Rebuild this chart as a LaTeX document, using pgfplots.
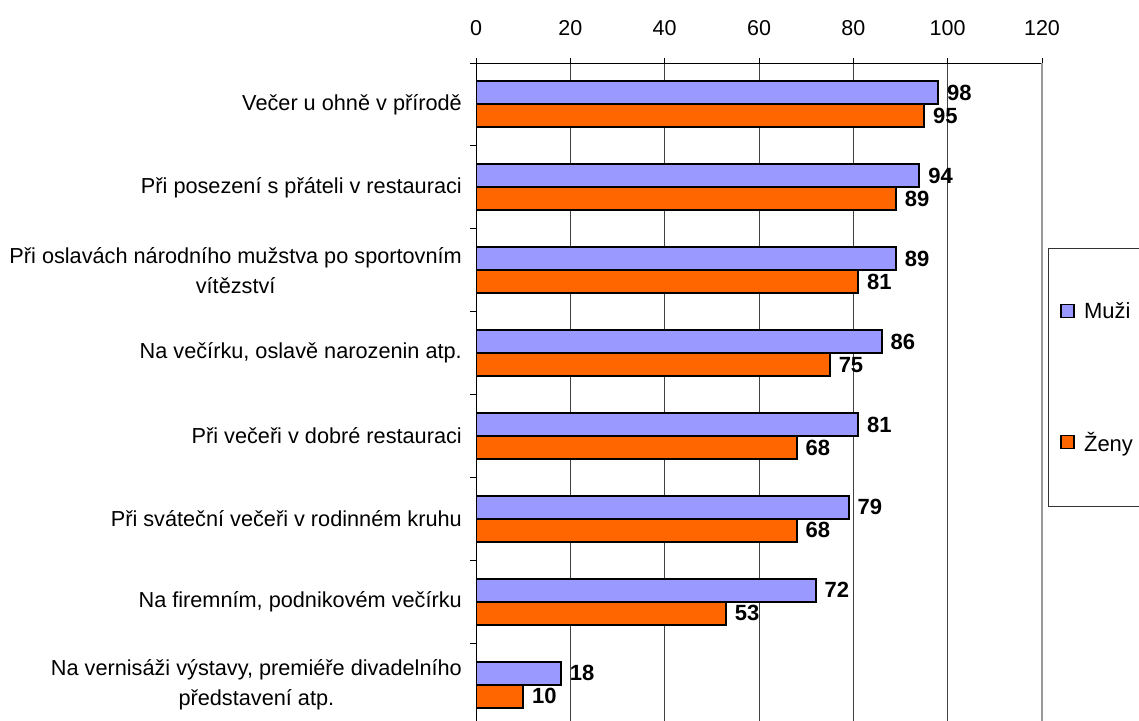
\documentclass[border=0pt]{standalone}
\usepackage{pgfplots}
\pgfplotsset{compat=1.18}
\usepackage{fontspec}
\setmainfont{Liberation Sans}
\definecolor{muzi}{HTML}{9999FF}
\definecolor{zeny}{HTML}{FF6600}
\begin{document}
\begin{tikzpicture}
\begin{axis}[
  at={(476pt,-63pt)}, anchor=north west,
  width=566pt, height=663pt, scale only axis,
  xmin=0, xmax=120, ymin=-0.5, ymax=7.5,
  axis x line*=top, axis y line*=left,
  axis line style={black, line width=1pt},
  xtick={0,20,...,120},
  tick align=outside, major tick length=5pt,
  tick style={black, line width=1pt},
  xmajorgrids, grid style={black!75, line width=0.8pt},
  /pgf/number format/assume math mode=true,
  xticklabel style={font=\fontsize{21.5}{21.5}\selectfont, yshift=19pt},
  ytick={0,...,7},
  yticklabels={{Na vernisáži výstavy, premiéře divadelního\\představení atp.},
    {Na firemním, podnikovém večírku},
    {Při sváteční večeři v rodinném kruhu},
    {Při večeři v dobré restauraci},
    {Na večírku, oslavě narozenin atp.},
    {Při oslavách národního mužstva po sportovním\\vítězství},
    {Při posezení s přáteli v restauraci},
    {Večer u ohně v přírodě}},
  ytick style={draw=none},
  yticklabel style={font=\fontsize{21.7}{30}\selectfont, align=center, inner sep=0pt, xshift=-9pt},
  extra y ticks={-0.5,0.5,...,7.5}, extra y tick labels={},
  extra y tick style={ytick style={draw=black, line width=1pt}, major tick length=6pt, grid=none},
  xbar, bar width=23pt,
  nodes near coords,
  every node near coord/.append style={font=\fontsize{22}{22}\selectfont\bfseries, inner sep=0pt, anchor=west, xshift=8pt},
  legend cell align=left,
  legend style={at={(1.0106,0.721)}, anchor=north west, draw=black!80, line width=0.8pt,
    font=\fontsize{22}{22}\selectfont, inner xsep=12pt, inner ysep=52pt, row sep=108pt,
    /tikz/column sep=4pt},
  legend image code/.code={\draw[#1, line width=1.3pt] (0pt,-6.5pt) rectangle (13pt,6.5pt); \path (16pt,0pt);},
]
\addplot[fill=muzi, draw=black, line width=2pt, bar shift=11.5pt]
  coordinates {(98,7) (94,6) (89,5) (86,4) (81,3) (79,2) (72,1) (18,0)};
\addplot[fill=zeny, draw=black, line width=2pt, bar shift=-11.5pt]
  coordinates {(95,7) (89,6) (81,5) (75,4) (68,3) (68,2) (53,1) (10,0)};
\legend{Muži, Ženy}
\end{axis}
\draw[black!40, line width=1.8pt] (1042pt,-63pt) -- (1042pt,-726pt);
\pgfresetboundingbox
\useasboundingbox (0pt,0pt) rectangle (1139pt,-720pt);
\end{tikzpicture}
\end{document}
